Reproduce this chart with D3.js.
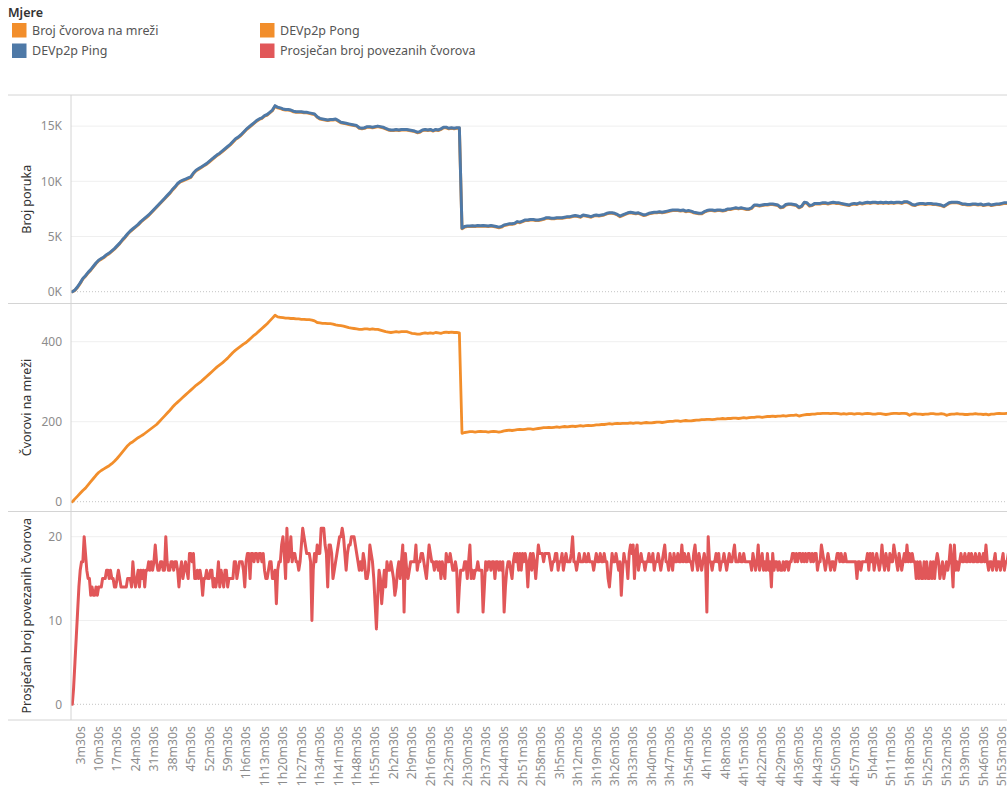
<!DOCTYPE html>
<html><head><meta charset="utf-8">
<script src="https://cdn.jsdelivr.net/npm/d3@7"></script>
<style>
body{margin:0;background:#fff;}
svg{display:block;font-family:"Noto Sans",sans-serif;}
</style></head><body>
<svg id="c" width="1007" height="789"></svg>
<script>
// ---------------- DATA ----------------
const legendTitle = "Mjere";
const legendNames = ["Broj čvorova na mreži", "DEVp2p Ping", "DEVp2p Pong", "Prosječan broj povezanih čvorova"];
const legendColors = ["#f28e2b", "#4e79a7", "#f28e2b", "#e15759"];

const tickLabels = ["3m30s","10m30s","17m30s","24m30s","31m30s","38m30s","45m30s","52m30s","59m30s",
"1h6m30s","1h13m30s","1h20m30s","1h27m30s","1h34m30s","1h41m30s","1h48m30s","1h55m30s",
"2h2m30s","2h9m30s","2h16m30s","2h23m30s","2h30m30s","2h37m30s","2h44m30s","2h51m30s","2h58m30s",
"3h5m30s","3h12m30s","3h19m30s","3h26m30s","3h33m30s","3h40m30s","3h47m30s","3h54m30s",
"4h1m30s","4h8m30s","4h15m30s","4h22m30s","4h29m30s","4h36m30s","4h43m30s","4h50m30s","4h57m30s",
"5h4m30s","5h11m30s","5h18m30s","5h25m30s","5h32m30s","5h39m30s","5h46m30s","5h53m30s"];

const msgTicks = [0, 5000, 10000, 15000];
const nodeTicks = [0, 200, 400];
const avgTicks = [0, 10, 20];

// one value per minute (0m30s, 1m30s, ...)
const ping = [
0,150,450,800,1200,1450,1750,2000,2300,2600,
2850,3000,3150,3350,3500,3700,3900,4150,4400,4700,
4950,5250,5500,5700,5900,6100,6350,6550,6750,6950,
7200,7450,7700,7950,8200,8450,8700,8950,9250,9500,
9800,10000,10100,10200,10300,10400,10750,11000,11150,11300,
11450,11600,11800,12000,12200,12400,12550,12750,12950,13150,
13350,13600,13850,14000,14200,14450,14700,14900,15100,15300,
15500,15650,15750,15950,16050,16250,16450,16850,16700,16650,
16550,16500,16500,16450,16350,16300,16300,16300,16250,16250,
16200,16150,16100,15850,15700,15650,15600,15550,15600,15600,
15650,15500,15350,15300,15250,15200,15150,15100,15050,14850,
14800,14850,14950,14950,14900,14950,15000,14950,14900,14800,
14700,14650,14650,14700,14650,14700,14700,14700,14650,14600,
14550,14450,14500,14650,14700,14650,14700,14600,14700,14650,
14750,14900,14900,14800,14850,14800,14850,14850,
5750,5900,5950,5950,5980,5950,6000,5980,6000,5980,
5950,6000,5950,5900,5850,5900,6050,6100,6150,6150,
6200,6350,6300,6400,6500,6500,6550,6550,6500,6500,
6550,6600,6700,6700,6650,6650,6700,6700,6700,6750,
6800,6800,6850,6900,6850,6800,6950,6900,6850,6800,
6900,6950,6900,6950,7000,7100,7150,7150,7100,7000,
6850,6950,7050,7150,7200,7150,7100,7150,7050,6950,
7000,7100,7150,7200,7200,7250,7200,7250,7300,7350,
7400,7400,7400,7350,7400,7300,7350,7300,7200,7150,
7100,7100,7250,7350,7400,7400,7350,7400,7400,7350,
7400,7500,7500,7550,7600,7550,7600,7550,7500,7500,
7600,7850,7850,7800,7850,7900,7900,7950,7950,7900,
7850,7650,7700,7900,7950,7950,7900,7850,7650,7750,
8100,8050,7800,7850,8000,8000,8000,8050,8050,8000,
8050,8100,8050,8050,8000,7950,7900,7850,7950,8000,
7950,8050,8000,8050,8100,8050,8100,8100,8050,8100,
8050,8100,8050,8100,8050,8100,8100,8050,8150,8150,
8050,7900,7850,7950,8000,8000,7950,8000,8000,7950,
7950,7900,7850,7750,7900,8050,8100,8100,8100,8050,
7950,7950,7900,7900,7950,7950,7900,7950,7850,7900,
7950,7850,7900,7950,7950,8000,8050,8050,8100];

const pong = [
0,120,400,750,1150,1400,1700,1950,2250,2550,
2800,2950,3100,3300,3450,3650,3850,4100,4350,4650,
4900,5200,5450,5650,5850,6050,6300,6500,6700,6900,
7150,7400,7650,7900,8150,8400,8650,8900,9200,9450,
9750,9950,10050,10150,10250,10350,10700,10950,11100,11250,
11400,11550,11750,11950,12150,12350,12500,12700,12900,13100,
13300,13550,13800,13950,14150,14400,14650,14850,15050,15250,
15450,15600,15700,15900,16000,16200,16400,16800,16650,16600,
16500,16450,16450,16400,16300,16250,16250,16250,16200,16200,
16150,16100,16050,15800,15650,15600,15550,15500,15550,15550,
15600,15450,15300,15250,15200,15150,15100,15050,15000,14800,
14750,14800,14900,14900,14850,14900,14950,14900,14850,14750,
14650,14600,14600,14650,14600,14650,14650,14650,14600,14550,
14500,14400,14450,14600,14650,14600,14650,14550,14650,14600,
14700,14850,14850,14750,14800,14750,14800,14800,
5700,5850,5900,5900,5930,5900,5950,5930,5950,5930,
5900,5950,5900,5850,5800,5850,6000,6050,6100,6100,
6150,6300,6250,6350,6450,6450,6500,6500,6450,6450,
6500,6550,6650,6650,6600,6600,6650,6650,6650,6700,
6750,6750,6800,6850,6800,6750,6900,6850,6800,6750,
6850,6900,6850,6900,6950,7050,7100,7100,7050,6950,
6800,6900,7000,7100,7150,7100,7050,7100,7000,6900,
6950,7050,7100,7150,7150,7200,7150,7200,7250,7300,
7350,7350,7350,7300,7350,7250,7300,7250,7150,7100,
7050,7050,7200,7300,7350,7350,7300,7350,7350,7300,
7350,7450,7450,7500,7550,7500,7550,7500,7450,7450,
7550,7800,7800,7750,7800,7850,7850,7900,7900,7850,
7800,7600,7650,7850,7900,7900,7850,7800,7600,7700,
8050,8000,7750,7800,7950,7950,7950,8000,8000,7950,
8000,8050,8000,8000,7950,7900,7850,7800,7900,7950,
7900,8000,7950,8000,8050,8000,8050,8050,8000,8050,
8000,8050,8000,8050,8000,8050,8050,8000,8100,8100,
8000,7850,7800,7900,7950,7950,7900,7950,7950,7900,
7900,7850,7800,7700,7850,8000,8050,8050,8050,8000,
7900,7900,7850,7850,7900,7900,7850,7900,7800,7850,
7900,7800,7850,7900,7900,7950,8000,8000,8050];

const nodes = [
0,7,14,21,28,34,42,50,58,66,
73,78,82,86,90,95,101,108,116,124,
132,140,146,150,155,160,164,168,173,178,
183,188,193,200,207,214,221,228,236,243,
249,255,261,267,273,279,285,291,296,301,
307,313,319,325,331,337,342,347,353,359,
366,373,379,384,389,394,398,404,410,416,
421,427,433,439,445,452,459,466,462,461,
460,459,459,458,458,457,457,456,456,455,
455,454,452,448,447,446,446,445,445,444,
442,441,440,439,437,435,434,433,432,431,
431,432,432,431,432,431,431,429,427,425,
424,423,424,425,424,425,425,425,423,421,
420,419,419,421,422,421,422,421,423,422,
421,423,424,423,424,423,423,422,
171,173,174,175,175,174,175,176,175,175,
174,175,176,175,174,175,177,178,179,178,
179,180,181,180,181,182,182,181,182,183,
184,185,185,186,185,186,187,186,187,188,
187,188,189,188,189,190,189,190,191,190,
191,192,192,193,193,194,195,194,195,196,
195,196,196,196,197,196,197,197,196,197,
198,197,197,198,199,199,198,199,200,201,
201,202,202,201,202,203,202,202,203,204,
204,205,205,206,206,205,206,207,207,208,
207,208,208,209,209,208,209,210,209,210,
211,211,212,212,211,212,213,213,214,213,
214,214,215,214,215,216,216,217,214,216,
217,218,218,219,219,220,220,221,221,221,
220,221,221,220,219,220,219,220,220,219,
220,220,219,220,221,220,219,219,220,220,
219,218,219,220,221,221,220,221,221,220,
216,219,220,219,219,218,219,219,220,220,
219,219,220,219,216,218,219,219,220,219,
219,218,218,219,219,220,219,219,218,219,
217,219,219,220,221,220,220,221,221];

// one value per 30 seconds (0m30s, 1m00s, ...)
const avgConn = [
0,2,5,8,11,14,16,17,17,20,18,16,15,15,
13,14,13,13,14,13,14,14,14,15,15,15,16,16,15,16,15,15,14,14,15,16,15,14,14,14,14,14,15,15,
15,14,17,15,14,15,16,14,16,15,16,14,16,16,17,16,17,16,17,19,17,16,16,17,17,16,16,20,17,16,
16,17,17,16,17,17,16, 14,16,17,15,16,17,16,15, 18,18,17,18, 15,15,16,15,16, 15,13,15,15,
16,15,15,16,16, 14,15,14,15, 17,14,16,15, 14,16,16,14, 15,15,15,15,17, 17,15,16, 17,17,17,16,
14,17,18,18,15,18,18,17,18,18,17,18,18,17,18,16,15,15,16,17,17,15,15,16,12,16,17,
17,19,20,18,15,21,17,18,20,17, 18,18,17,17,16,17,19,21,20,19, 18,18,18,17,10,16,18,17,19,18,
18,21,21,21,19,18,14,19,19,18, 15,16,17,18,19,20,20,21,20,18, 16,18,19,19,20,20,20,19,18,17, 16,
17,16,18,17,15,15,16,19,18,17, 15,12,9,13,16,15,12,14,16,14, 17,16,16,17,16,15,13,14,16,17,
15,17,19,11,18,16,15,16,
17,17,17,17,19,16,17,17,18,18, 17,16,15,17,19,18,17,17,16,17, 17,16,17,15,17,16,15,18,17,17,
18,17,16,16,17,16,11,14,16,16, 16,17,17,15,17,19,15,16,15,16, 16,17,16,16,16,11,14,17,16,17,
17,16,17,17,15,17,17,16,
17,16,17,11,14,16,17,17,16,15,17,18,
17,18,16,18,16,18,17,18,17,14,17,18,16,18,17,15,
17,19,18,18,18,17,18,18,18,18,17,16,17,17,18,18,16,
17,17,18,16,17,18,17,17,17,18,20,17,17,16,17,18,17,
17,17,18,17,17,18,17,17,17,16,17,18,17,17,18,17,17,18,17,17,
15,14,16,18,17,17,18,17,16,17,13,16,18,
17,17,15,18,19,18,19,15,18,19,16,17,18,17,17,16,17,
17,18,17,17,18,16,17,17,18,17,16,17,18,19,17,17,
16,18,17,16,18,17,17,18,17,17,19,17,18,17,17,18,17,
17,16,18,19,17,16,18,17,16,17,18,17,11,20,17,17,
16,17,17,18,17,18,16,17,17,18,17,16,17,18,17,17,18,19,
17,17,17,18,17,17,18,17,17,17,17,
17,16,18,17,16,17,19,16,17,18,16,17,16,18,16,17,14,18,16,17,17,16,17,16,16,17,16,17,17,16,17,
17,18,18,17,18,17,18,18,17,18,17,18,17,18,18,17,18,17,18,18,
16,17,17,19,
18,17,16,17,18,17,16,17,17,16,17,18,
18,17,18,17,17,18,17,17,17,17,
17,17,17,17,15,
17,17,16,17,17,17,17,
18,16,18,17,18,16,17,18,17,16,17,19,
17,16,18,17,16,18,17,17,19,
18,17,16,18,17,16,17,18,17,19,
17,18,17,18,17,17,15,
17,15,17,15,15,17,15,17,15,15,17,15,17,15,17,18,
17,15,16,17,15,16,17,16,17,19,
17,14,19,16,
17,16,17,18,17,17,18,17,17,18,17,18,17,17,18,17,17,18,17,17,18,17,
19,17,16,17,17,16,17,
18,16,17,17,16,17,18,16,17,17,18,17];

// ---------------- CHART ----------------
const W = 1007, H = 789;
const svg = d3.select("#c");
const plotL = 71, plotR = 1007, lineL = 8;
const minuteW = 2.633;

function labelToMinutes(s){
  const h = /(\d+)h/.exec(s), m = /(\d+)m/.exec(s), sec = /(\d+)s/.exec(s);
  return (h ? +h[1]*60 : 0) + (m ? +m[1] : 0) + (sec ? +sec[1]/60 : 0);
}
const x = d3.scaleLinear().domain([0, 357]).range([plotL, plotL + 357*minuteW]);
const tMinute = d3.range(ping.length).map(i => 0.5 + i);
const tHalf = d3.range(avgConn.length).map(j => 0.5 + 0.5*j);

const panels = [
  {top:95, bottom:303.5, y:d3.scaleLinear().domain([0,15000]).range([291.7,126.1]),
   ticks:msgTicks, fmt:d=>(d/1000)+"K", title:"Broj poruka",
   series:[{v:pong,t:tMinute,c:legendColors[2],w:3},{v:ping,t:tMinute,c:legendColors[1],w:3}]},
  {top:303.5, bottom:511.5, y:d3.scaleLinear().domain([0,400]).range([501.7,341.7]),
   ticks:nodeTicks, fmt:d=>String(d), title:"Čvorovi na mreži",
   series:[{v:nodes,t:tMinute,c:legendColors[0],w:2.8}]},
  {top:511.5, bottom:720, y:d3.scaleLinear().domain([0,20]).range([704.3,536.7]),
   ticks:avgTicks, fmt:d=>String(d), title:"Prosječan broj povezanih čvorova",
   series:[{v:avgConn,t:tHalf,c:legendColors[3],w:3}]}
];

const defs = svg.append("defs");
panels.forEach((p, k) => {
  defs.append("clipPath").attr("id","clip"+k).append("rect")
    .attr("x", plotL).attr("y", p.top).attr("width", plotR-plotL).attr("height", p.bottom-p.top);
  const g = svg.append("g");
  // gridlines
  p.ticks.forEach(tv => {
    const yy = p.y(tv);
    g.append("line").attr("x1", plotL).attr("x2", plotR).attr("y1", yy).attr("y2", yy)
      .attr("stroke", tv === 0 ? "#c4c4c4" : "#efefef")
      .attr("stroke-width", 1)
      .attr("stroke-dasharray", tv === 0 ? "1,2" : null);
    g.append("text").attr("x", 62).attr("y", yy).attr("dy","0.35em")
      .attr("text-anchor","end").attr("fill","#8c8c8c").attr("font-size","12px").text(p.fmt(tv));
  });
  // title
  const cy = (p.top + p.bottom)/2;
  g.append("text").attr("transform",`translate(31,${cy}) rotate(-90)`)
    .attr("text-anchor","middle").attr("fill","#333").attr("font-size","12.5px").text(p.title);
  // lines
  const lg = g.append("g").attr("clip-path",`url(#clip${k})`);
  p.series.forEach(s => {
    const line = d3.line().x((d,i) => x(s.t[i])).y(d => p.y(d));
    lg.append("path").datum(s.v).attr("d", line).attr("fill","none")
      .attr("stroke", s.c).attr("stroke-width", s.w)
      .attr("stroke-linejoin","round").attr("stroke-linecap","round");
  });
});

// frame lines
[95, 303.5, 511.5, 720].forEach(yy => {
  svg.append("line").attr("x1", lineL).attr("x2", W).attr("y1", yy).attr("y2", yy)
    .attr("stroke","#d4d4d4").attr("stroke-width",1);
});
svg.append("line").attr("x1", plotL).attr("x2", plotL).attr("y1", 95).attr("y2", 720)
  .attr("stroke","#d4d4d4").attr("stroke-width",1);

// x tick labels
const xg = svg.append("g");
tickLabels.forEach(lbl => {
  const xx = x(labelToMinutes(lbl));
  xg.append("text").attr("transform",`translate(${xx},726) rotate(-90)`)
    .attr("dy","0.35em").attr("text-anchor","end").attr("fill","#8c8c8c")
    .attr("font-size","12.3px").text(lbl);
});

// legend
svg.append("text").attr("x",8).attr("y",17).attr("fill","#333")
  .attr("font-size","12.5px").attr("font-weight","600").text(legendTitle);
const legPos = [[12,23],[12,43.5],[260,23],[260,43.5]];
legendNames.forEach((n,i) => {
  const [lx, ly] = legPos[i];
  svg.append("rect").attr("x",lx).attr("y",ly).attr("width",14.5).attr("height",14.5).attr("fill",legendColors[i]);
  svg.append("text").attr("x",lx+20).attr("y",ly+7.3).attr("dy","0.35em")
    .attr("fill","#555").attr("font-size","12.5px").text(n);
});
</script>
</body></html>
